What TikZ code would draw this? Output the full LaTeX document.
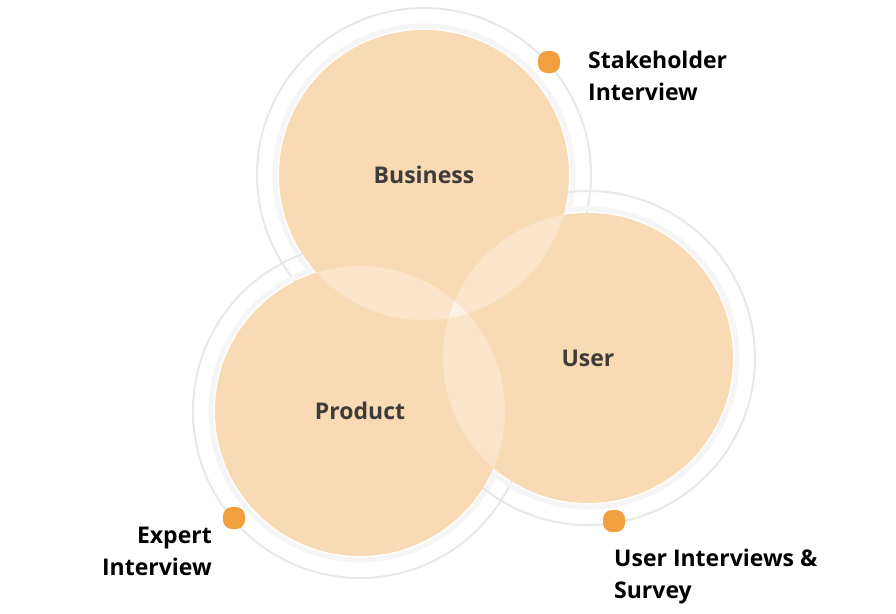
\documentclass[tikz,border=0pt]{standalone}
\usepackage{fontspec}
\setmainfont{Open Sans}
\usepackage{tikz}
\usetikzlibrary{positioning, backgrounds}
\definecolor{peach}{HTML}{F8DBB4}
\definecolor{dotorange}{HTML}{F0A03E}
\definecolor{labelgray}{HTML}{3F3B38}
\tikzset{
	area/.style={circle, fill=peach, minimum size=290pt, inner sep=0pt}
}
\tikzset{
	arealabel/.style={font=\fontsize{23}{26}\selectfont\bfseries\color{labelgray}}
}
\tikzset{
	marker/.style={fill=dotorange, rounded corners=9pt, minimum size=22pt, inner sep=0pt}
}
\tikzset{
	method/.style={font=\fontsize{23}{32}\selectfont\bfseries, inner sep=0pt}
}

\begin{document}
\begin{tikzpicture}[x=1pt, y=-1pt]
      \useasboundingbox (0,0) rectangle (896,613);
      % rings behind
      \foreach \cx/\cy in {424/175, 360/411, 588/358} {
        \draw[black!9, line width=2pt] (\cx,\cy) circle[radius=167pt];
        \draw[black!4, line width=5pt] (\cx,\cy) circle[radius=149pt];
      }
      \node[area] (business) at (424,175) {};
      \node[area] (product) at (360,411) {};
      \node[area] (user) at (588,358) {};
      % lighter overlaps
      \begin{scope}
        \clip (424,175) circle[radius=145pt];
        \fill[white, opacity=0.3] (360,411) circle[radius=145pt];
        \fill[white, opacity=0.3] (588,358) circle[radius=145pt];
      \end{scope}
      \begin{scope}
        \clip (360,411) circle[radius=145pt];
        \fill[white, opacity=0.3] (588,358) circle[radius=145pt];
      \end{scope}
      \node[arealabel] at (business) {Business};
      \node[arealabel] at (product) {Product};
      \node[arealabel] at (user) {User};
      % methods
      \node[marker] (dotstake) at (549,62) {};
      \node[marker] (dotexpert) at (234,518) {};
      \node[marker] (dotuser) at (614,521) {};
      \node[method, anchor=west, align=left] (stake) at (588,76) {Stakeholder\\Interview};
      \node[method, anchor=east, align=right] (expert) at (212,551) {Expert\\Interview};
      \node[method, anchor=west, align=left] (usersurvey) at (614,577) {User Interviews \&\\Survey};
    \end{tikzpicture}
\end{document}
